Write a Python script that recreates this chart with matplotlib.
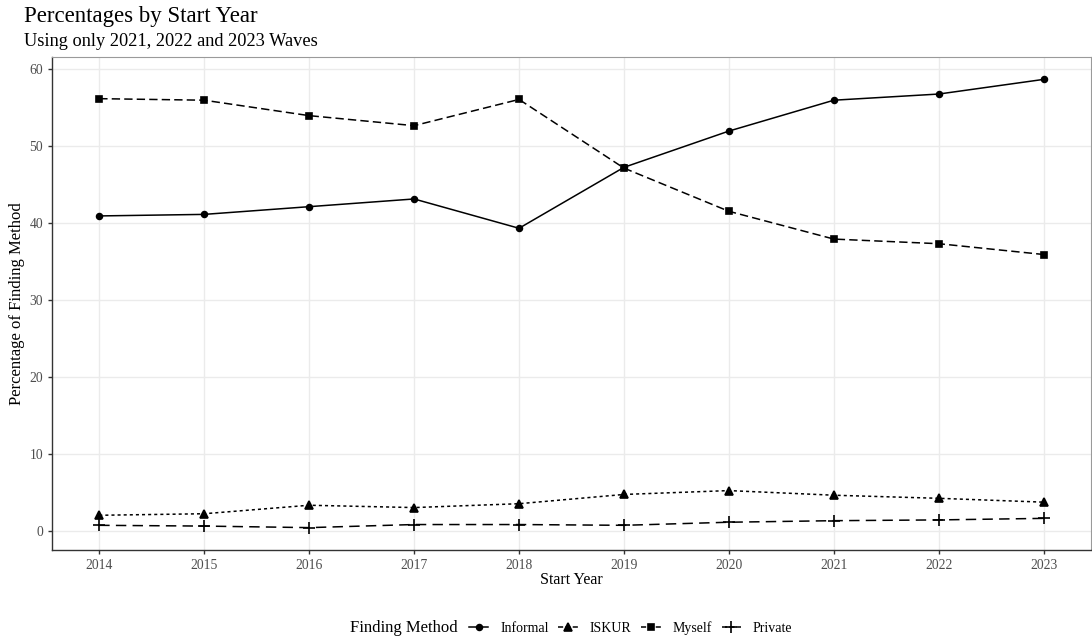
import matplotlib.pyplot as plt
from matplotlib.lines import Line2D

plt.rcParams['font.family'] = ['Liberation Serif', 'DejaVu Serif']
plt.rcParams['lines.scale_dashes'] = False

years = [2014, 2015, 2016, 2017, 2018, 2019, 2020, 2021, 2022, 2023]
informal = [40.9, 41.1, 42.1, 43.1, 39.3, 47.2, 51.9, 55.9, 56.7, 58.6]
iskur = [2.1, 2.3, 3.4, 3.1, 3.6, 4.8, 5.3, 4.7, 4.3, 3.8]
myself = [56.1, 55.9, 53.9, 52.6, 56.0, 47.1, 41.5, 37.9, 37.3, 35.9]
private = [0.8, 0.7, 0.5, 0.9, 0.9, 0.8, 1.2, 1.4, 1.5, 1.7]

methods = ["Informal", "ISKUR", "Myself", "Private"]
series = [informal, iskur, myself, private]
markers = ["o", "^", "s", "+"]
msizes = [4.2, 5.5, 4.4, 8]
dashes = [None, (2.2, 2.2), (6, 3), (7.5, 4.5)]

fig = plt.figure(figsize=(10.92, 6.41), dpi=100)
ax = fig.add_axes([52 / 1092, 91 / 641, 1039 / 1092, 493 / 641])

handles = []
for name, vals, m, ms, d in zip(methods, series, markers, msizes, dashes):
    kw = {}
    if d is not None:
        kw["dashes"] = d
    ln, = ax.plot(years, vals, color="black", lw=1.1, marker=m, markersize=ms,
                  mew=1.2, label=name, **kw)
    handles.append(ln)

ax.set_xlim(2013.55, 2023.45)
ax.set_ylim(-2.4, 61.5)
ax.set_xticks(years)
ax.set_yticks([0, 10, 20, 30, 40, 50, 60])
ax.grid(True, color="#ebebeb", lw=1.0)
ax.set_axisbelow(True)
for s in ["top", "right"]:
    ax.spines[s].set_color("#9a9a9a")
    ax.spines[s].set_linewidth(0.8)
for s in ["left", "bottom"]:
    ax.spines[s].set_color("#333333")
    ax.spines[s].set_linewidth(1.0)
ax.tick_params(colors="#333333", labelcolor="#4d4d4d", labelsize=9.8, length=3, width=1.0)

ax.set_xlabel("Start Year", fontsize=11.5, labelpad=0)
ax.set_ylabel("Percentage of Finding Method", fontsize=12, labelpad=3)

fig.text(24 / 1092, 1 - 22 / 641, "Percentages by Start Year", fontsize=16.5, va="baseline")
fig.text(24 / 1092, 1 - 45.5 / 641, "Using only 2021, 2022 and 2023 Waves", fontsize=13.2, va="baseline")

fig.text(350 / 1092, 1 - 628 / 641, "Finding Method", fontsize=12, va="center")
leg_handles = []
for h in handles:
    leg_handles.append(Line2D([], [], color="black", lw=1.1, marker=h.get_marker(),
                              markersize=h.get_markersize(), mew=1.2,
                              linestyle=h.get_linestyle()))
fig.legend(leg_handles, methods, loc="center left", bbox_to_anchor=(469 / 1092, 1 - 628 / 641),
           ncol=4, frameon=False, fontsize=10, handlelength=1.4, handletextpad=0.85,
           columnspacing=0.7, borderaxespad=0, borderpad=0)

fig.savefig("out.png", dpi=100)
